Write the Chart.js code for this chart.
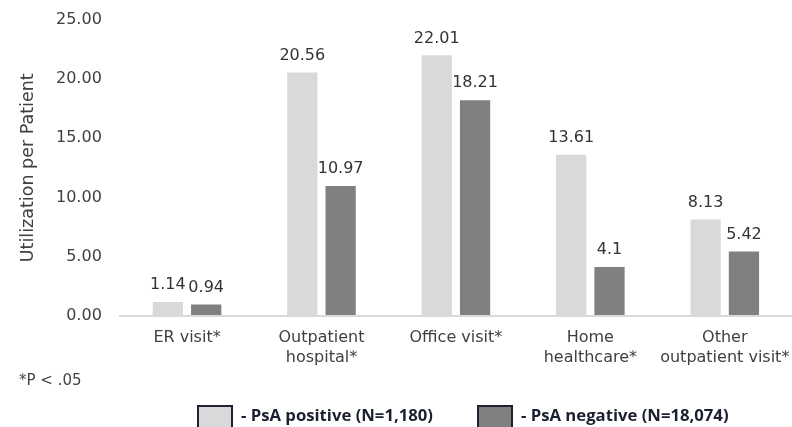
<!DOCTYPE html>
<html>
<head>
<meta charset="utf-8">
<title>Healthcare utilization per patient</title>
<script src="https://cdn.jsdelivr.net/npm/chart.js@4.4.1/dist/chart.umd.min.js"></script>
<style>
  html, body { margin: 0; padding: 0; background: #ffffff; }
  #wrap { position: relative; width: 792px; height: 427px; }
</style>
</head>
<body>
<div id="wrap"><canvas id="chart" width="792" height="427"></canvas></div>
<script>
// Utilization categories (multi-line where the label wraps)
const categories = [
  "ER visit*",
  ["Outpatient", "hospital*"],
  "Office visit*",
  ["Home", "healthcare*"],
  ["Other", "outpatient visit*"]
];
// Mean utilization per patient
const psaPositive = [1.14, 20.56, 22.01, 13.61, 8.13];
const psaNegative = [0.94, 10.97, 18.21, 4.1, 5.42];
const seriesNames = ["- PsA positive (N=1,180)", "- PsA negative (N=18,074)"];
const yTickValues = [0, 5, 10, 15, 20, 25];
const yTitle = "Utilization per Patient";
const footnote = "*P < .05";

const colors = ["#d9d9d9", "#808080"];
const FONT = '"DejaVu Sans", sans-serif';

// Value printed above each bar
const valueLabels = {
  id: "valueLabels",
  afterDatasetsDraw(chart) {
    const ctx = chart.ctx;
    ctx.save();
    ctx.font = "16px " + FONT;
    ctx.fillStyle = "#333333";
    ctx.textAlign = "center";
    ctx.textBaseline = "middle";
    chart.data.datasets.forEach((ds, i) => {
      chart.getDatasetMeta(i).data.forEach((bar, j) => {
        ctx.fillText(String(ds.data[j]), bar.x, bar.y - 17);
      });
    });
    ctx.restore();
  }
};

// Footnote and boxed legend along the bottom
const bottomNotes = {
  id: "bottomNotes",
  afterDraw(chart) {
    const ctx = chart.ctx;
    ctx.save();
    ctx.font = "15px " + FONT;
    ctx.fillStyle = "#444444";
    ctx.textAlign = "left";
    ctx.textBaseline = "middle";
    ctx.fillText(footnote, 19, 381);

    const boxX = [197, 477];
    chart.data.datasets.forEach((ds, i) => {
      const x = boxX[i];
      ctx.fillStyle = ds.backgroundColor;
      ctx.fillRect(x, 405, 36, 24);
      ctx.lineWidth = 2;
      ctx.strokeStyle = "#1d2333";
      ctx.strokeRect(x + 1, 406, 34, 24);
      ctx.font = "bold 16.7px \"Open Sans\", Arial, sans-serif";
      ctx.fillStyle = "#1b2030";
      ctx.fillText(ds.label, x + 44, 416);
    });
    ctx.restore();
  }
};

Chart.defaults.font.family = FONT;
Chart.defaults.color = "#404040";

new Chart(document.getElementById("chart"), {
  type: "bar",
  data: {
    labels: categories,
    datasets: [
      { label: seriesNames[0], data: psaPositive, backgroundColor: colors[0] },
      { label: seriesNames[1], data: psaNegative, backgroundColor: colors[1] }
    ]
  },
  options: {
    responsive: false,
    animation: false,
    devicePixelRatio: 1,
    layout: { padding: { top: 20, right: 0, bottom: 60, left: 0 } },
    datasets: { bar: { categoryPercentage: 0.57, barPercentage: 0.79, borderWidth: 0 } },
    plugins: {
      legend: { display: false },
      tooltip: { enabled: false }
    },
    scales: {
      x: {
        offset: true,
        grid: {
          display: true,
          drawOnChartArea: false,
          drawTicks: true,
          tickLength: 13,
          tickColor: "rgba(0,0,0,0)"
        },
        border: { display: true, color: "#d9d9d9", width: 2 },
        ticks: {
          padding: 0,
          maxRotation: 0,
          autoSkip: false,
          color: "#404040",
          font: { size: 16, lineHeight: 1.2 }
        }
      },
      y: {
        min: 0,
        max: 25,
        afterBuildTicks(axis) { axis.ticks = yTickValues.map(v => ({ value: v })); },
        grid: {
          display: true,
          drawOnChartArea: false,
          drawTicks: true,
          tickLength: 18,
          tickColor: "rgba(0,0,0,0)"
        },
        border: { display: false },
        ticks: {
          padding: 0,
          color: "#404040",
          font: { size: 16 },
          callback: v => Number(v).toFixed(2)
        },
        title: {
          display: true,
          text: yTitle,
          color: "#404040",
          font: { size: 17.5, lineHeight: 1.2 },
          padding: { top: 18, bottom: 17 }
        }
      }
    }
  },
  plugins: [valueLabels, bottomNotes]
});
</script>
</body>
</html>
